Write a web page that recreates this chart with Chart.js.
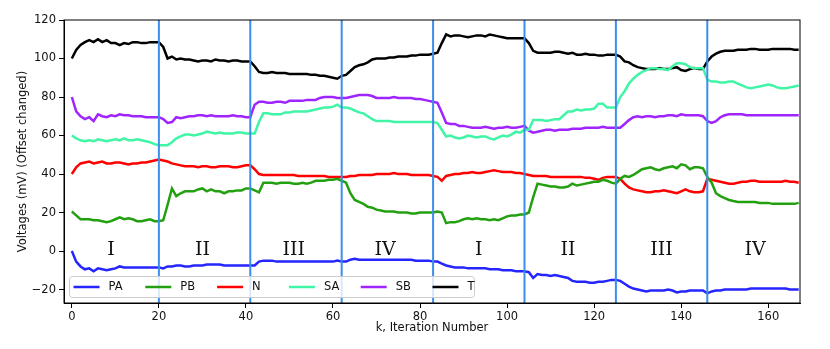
<!DOCTYPE html>
<html>
<head>
<meta charset="utf-8">
<script src="https://cdn.jsdelivr.net/npm/chart.js@4"></script>
<style>
  html, body { margin: 0; padding: 0; background: #fff; }
  #wrap { width: 830px; height: 349px; }
</style>
</head>
<body>
<div id="wrap"><canvas id="voltChart" width="830" height="349"></canvas></div>
<script>
// Données (k = 0..167)
const iterations = Array.from({length: 168}, (_, i) => i);

const seriesNames = ['PA', 'PB', 'N', 'SA', 'SB', 'T'];
const seriesColors = ['#2525ff', '#23a010', '#ff0000', '#40f5a6', '#a024ff', '#000000'];

const paData = [
  0, -5.5, -8, -9.5, -9, -10.5, -9, -9.5, -10, -9.5, -9, -8, -8.5, -8.5, -8.5, -8.5, -8.5, -8.5, -8.5, -8.5, -8.5,
  -9, -8, -8, -7.5, -7.5, -8, -8, -7.5, -7.5, -7.5, -7, -7, -7, -7, -7.5, -7.5, -7.5, -7.5, -7.5, -7.5, -7.5,
  -7.5, -5.5, -5, -5, -5, -5.5, -5.5, -5.5, -5.5, -5.5, -5.5, -5.5, -5.5, -5.5, -5.5, -5.5, -5.5, -5.5, -5.5, -5, -5.5,
  -5.5, -4.5, -4, -4.5, -4.5, -4.5, -4.5, -4.5, -4.5, -4.5, -4.5, -4.5, -4.5, -4.5, -4.5, -4.5, -5, -5, -5, -5, -5.5,
  -5.5, -6.5, -7.5, -8, -8.5, -8.5, -8.5, -9, -9, -9, -9, -9, -9.5, -9.5, -9.5, -10, -10, -10, -10.5, -10.5, -10.5,
  -11, -14, -12, -12.5, -12.5, -13, -12.5, -13, -13.5, -14, -15.5, -16, -16, -16, -16.5, -16.5, -16, -16, -15.5, -15, -15,
  -15.5, -17, -18.5, -19.5, -20, -20.5, -21, -20.5, -20.5, -20.5, -20.5, -20, -20.5, -21.5, -21, -21, -20.5, -20.5, -20.5, -20.5, -22,
  -21, -20.5, -20.5, -20, -20, -20, -20, -20, -20, -19.5, -19.5, -19.5, -19.5, -19.5, -19.5, -19.5, -19.5, -19.5, -20, -20, -20
];
const pbData = [
  20.5, 18.5, 16.5, 16.5, 16.5, 16, 16, 15.5, 15, 15.5, 16.5, 17.5, 16.5, 17, 16.5, 15.5, 15.5, 16, 16.5, 15.5, 15.5,
  16, 24, 32.5, 28.5, 30, 31, 31, 31, 32, 32.5, 31, 32, 31, 31, 30, 31, 31, 31.5, 31.5, 32.5, 32.5,
  31.5, 30.5, 35.5, 35.5, 35.5, 35, 35.5, 35.5, 35.5, 35, 35, 35.5, 35, 35.5, 36.5, 36.5, 36.5, 37, 37, 37.5, 36.5,
  35.5, 30, 26.5, 25.5, 24.5, 23, 22.5, 21.5, 21, 20.5, 20.5, 20.5, 20, 20, 20, 19.5, 19.5, 20, 20, 20, 20,
  20.5, 20, 14.5, 15, 15, 15.5, 16.5, 17, 16.5, 17, 16.5, 16.5, 16, 16.5, 16, 17, 18, 18.5, 18.5, 19, 19,
  20, 28, 35, 34.5, 34, 33.5, 33.5, 33, 33, 33.5, 35, 34, 34.5, 35, 35.5, 36, 36, 37, 36.5, 35.5, 35,
  37.5, 39, 38.5, 39.5, 41, 42.5, 43, 43.5, 42.5, 42, 43, 43.5, 44, 43, 45, 44.5, 42.5, 43.5, 43.5, 43, 38.5,
  35.5, 30, 28.5, 27.5, 26.5, 26, 25.5, 25.5, 25.5, 25.5, 25.5, 25, 25, 25, 24.5, 24.5, 24.5, 24.5, 24.5, 24.5, 25
];
const nData = [
  40, 43.5, 45.5, 46, 46.5, 45.5, 46, 46.5, 45.5, 45.5, 46, 46, 45.5, 45, 45.5, 45.5, 46, 46, 46.5, 47, 47.5,
  47, 46.5, 45.5, 45, 44.5, 44, 44, 44, 43.5, 44, 44, 43.5, 43.5, 44, 44, 44, 43.5, 43.5, 44, 44.5, 44.5,
  42.5, 40, 39.5, 39.5, 39.5, 39.5, 39.5, 39.5, 39.5, 39.5, 39, 39, 39, 39, 39, 39, 39, 38.5, 38.5, 38.5, 38.5,
  38.5, 39, 39, 39.5, 39.5, 39.5, 39.5, 40, 40, 40, 40, 40.5, 40, 40, 40, 39.5, 39.5, 39.5, 39.5, 39.5, 39,
  38.5, 36.5, 39, 39.5, 40, 40, 40.5, 40.5, 41, 40.5, 40.5, 41, 41.5, 42, 41.5, 41, 41, 41, 40.5, 40.5, 40,
  39.5, 39, 39, 39, 39, 38.5, 38.5, 38.5, 38.5, 38.5, 38.5, 38.5, 38.5, 38, 38, 37.5, 37, 38, 38.5, 38.5, 38.5,
  37.5, 35, 33, 32, 31.5, 31, 30.5, 30.5, 31, 31, 31.5, 31, 30.5, 30, 31, 32, 31, 30.5, 30.5, 31, 37.5,
  37, 36.5, 36, 35.5, 35, 35, 35.5, 36, 36, 36.5, 36.5, 36, 36, 36, 36, 36, 36, 36.5, 36, 36, 35.5
];
const saData = [
  60, 58.5, 57.5, 57, 57.5, 57, 58, 57.5, 57, 57.5, 58, 57.5, 58.5, 57.5, 57.5, 58, 57.5, 57, 56.5, 55.5, 55,
  55, 55, 56.5, 58.5, 59.5, 60.5, 60.5, 60, 60.5, 61, 62, 61.5, 61, 61.5, 61, 61, 61, 61.5, 61.5, 61, 61,
  61, 67, 71.5, 71.5, 71, 71, 71, 72, 72, 72.5, 72.5, 72.5, 72.5, 73, 73.5, 74, 74.5, 74.5, 75, 76, 74.5,
  74.5, 74, 73, 72, 71.5, 70, 68.5, 67.5, 67.5, 67.5, 67.5, 67, 67, 67, 67, 67, 67, 67, 67, 67, 67,
  66.5, 63, 59.5, 60, 59, 58.5, 59, 60, 59.5, 59, 59.5, 59.5, 58.5, 58, 59, 60, 59.5, 60.5, 62, 61.5, 63,
  63, 68, 68, 68, 67.5, 68, 68.5, 68.5, 70.5, 72.5, 72.5, 73.5, 73, 73.5, 73.5, 74, 76.5, 76.5, 74.5, 74.5, 74.5,
  80, 83, 87, 89.5, 91.5, 93, 94, 95, 95, 94.5, 94.5, 94, 96, 97.5, 97.5, 97, 95.5, 95, 95, 95, 89,
  88, 88, 87.5, 87.5, 88, 88, 87, 86, 85, 84.5, 85, 85.5, 86, 86.5, 86, 85, 84.5, 84.5, 85, 85.5, 86
];
const sbData = [
  80, 72.5, 70, 68.5, 69.5, 67.5, 71, 70, 69.5, 70.5, 70, 71, 70.5, 70.5, 70, 70, 70, 69.5, 69.5, 69.5, 69.5,
  68.5, 66.5, 67, 69.5, 69, 69.5, 70, 70, 70.5, 70.5, 70, 70.5, 70, 70, 70, 70, 70.5, 70, 70, 69.5, 69.5,
  76, 77.5, 77.5, 77, 77, 77.5, 77.5, 77, 78, 78, 78, 78, 78.5, 78.5, 78.5, 79.5, 80, 80, 80, 79.5, 79.5,
  79.5, 80, 80.5, 81, 81, 81, 80.5, 79.5, 79.5, 79.5, 79.5, 80, 79.5, 79.5, 79.5, 79.5, 79, 79, 78.5, 78, 77.5,
  77, 72, 66.5, 66, 66, 65, 65, 64.5, 64, 64, 64, 64.5, 64, 63.5, 64, 64, 64.5, 64, 64, 64.5, 65,
  62.5, 61.5, 62, 62.5, 63, 63, 62.5, 63, 63, 63, 63.5, 63.5, 63.5, 64, 64, 64, 64, 64.5, 64, 64, 64,
  64, 66, 68, 69.5, 70, 69.5, 70, 70, 69.5, 70, 70, 70.5, 70.5, 70, 71, 70.5, 70.5, 70.5, 70.5, 70, 67.5,
  66.5, 67.5, 69.5, 70.5, 71, 71, 71, 71, 70.5, 70.5, 70.5, 70.5, 70.5, 70.5, 70.5, 70.5, 70.5, 70.5, 70.5, 70.5, 70.5
];
const tData = [
  100, 104.5, 107, 108.5, 109.5, 108.5, 110, 108.5, 109.5, 108, 108, 107, 108, 107.5, 108.5, 108.5, 108, 108, 108.5, 108.5, 108.5,
  106, 100, 101, 99.5, 100, 99.5, 99.5, 99, 98.5, 99, 99, 98.5, 99.5, 99, 99, 98.5, 99, 99, 98.5, 98.5, 98.5,
  96, 93, 92.5, 92.5, 93, 92.5, 92.5, 92.5, 92, 92, 92, 92, 92, 91.5, 91.5, 91, 91, 90.5, 90, 89.5, 91,
  91.5, 93.5, 95.5, 96.5, 97, 98, 99.5, 100, 100, 100, 100.5, 100.5, 101, 101, 101, 101.5, 101.5, 102, 102, 102, 102.5,
  103, 108, 112.5, 111.5, 112, 112, 111.5, 111, 111.5, 112, 112, 111.5, 112.5, 112, 111.5, 111, 110.5, 110.5, 110.5, 110.5, 110.5,
  108, 104, 103, 103, 103, 103, 103.5, 103.5, 103, 102.5, 103, 102, 102, 102.5, 102, 102, 101.5, 101.5, 102, 102, 102,
  101, 98.5, 98, 96.5, 95.5, 95, 94.5, 94.5, 94.5, 95, 94.5, 94.5, 95, 95.5, 94, 93.5, 94.5, 95, 94.5, 94.5, 98.5,
  101, 102.5, 103.5, 104, 104, 104, 104.5, 104.5, 104.5, 105, 105, 104.5, 104.5, 104.5, 105, 105, 105, 105, 105, 104.5, 104.5
];
const allSeries = [paData, pbData, nData, saData, sbData, tData];

// Séparations des phases et étiquettes
const phaseBounds = [20, 41, 62, 83, 104, 125, 146];
const phaseNames = ['I', 'II', 'III', 'IV', 'I', 'II', 'III', 'IV'];
const phaseNameK = [9, 30, 51, 72, 93.5, 114, 135.5, 157];
const phaseNameLevel = -2;

const xTicks = [0, 20, 40, 60, 80, 100, 120, 140, 160];
const yTicks = [-20, 0, 20, 40, 60, 80, 100, 120];

const tickFont = { family: 'DejaVu Sans', size: 11.5 };

// Plugin : lignes verticales, chiffres romains, cadre et légende
const overlayPlugin = {
  id: 'overlay',
  afterDatasetsDraw(chart) {
    const { ctx, chartArea: a, scales: { x, y } } = chart;
    ctx.save();

    ctx.strokeStyle = '#3a8fec';
    ctx.lineWidth = 2;
    phaseBounds.forEach(k => {
      const px = x.getPixelForValue(k);
      ctx.beginPath();
      ctx.moveTo(px, a.top);
      ctx.lineTo(px, a.bottom);
      ctx.stroke();
    });

    ctx.fillStyle = '#111';
    ctx.font = '19px "DejaVu Serif"';
    ctx.textAlign = 'center';
    ctx.textBaseline = 'alphabetic';
    phaseNames.forEach((name, i) => {
      ctx.fillText(name, x.getPixelForValue(phaseNameK[i]), y.getPixelForValue(phaseNameLevel));
    });

    // légende dans la zone du graphique
    const lx = a.left + 5.5, ly = 276.5, lw = 405, lh = 21;
    ctx.beginPath();
    ctx.roundRect(lx, ly, lw, lh, 3);
    ctx.fillStyle = 'rgba(255,255,255,0.8)';
    ctx.fill();
    ctx.strokeStyle = '#cccccc';
    ctx.lineWidth = 1;
    ctx.stroke();

    ctx.font = '11.5px "DejaVu Sans"';
    ctx.textAlign = 'left';
    ctx.textBaseline = 'middle';
    chart.data.datasets.forEach((ds, i) => {
      const hx = lx + 4 + i * 71.8;
      const cy = ly + lh / 2;
      ctx.strokeStyle = ds.borderColor;
      ctx.lineWidth = 2.5;
      ctx.beginPath();
      ctx.moveTo(hx, cy);
      ctx.lineTo(hx + 26, cy);
      ctx.stroke();
      ctx.fillStyle = '#111';
      ctx.fillText(ds.label, hx + 35, cy + 0.5);
    });

    ctx.strokeStyle = '#000';
    ctx.lineWidth = 1;
    ctx.strokeRect(a.left, a.top, a.right - a.left, a.bottom - a.top);
    ctx.restore();
  }
};

const ctx = document.getElementById('voltChart').getContext('2d');
const chart = new Chart(ctx, {
  type: 'line',
  data: {
    datasets: seriesNames.map((name, i) => ({
      label: name,
      data: allSeries[i].map((v, j) => ({ x: iterations[j], y: v })),
      borderColor: seriesColors[i],
      backgroundColor: seriesColors[i],
      borderWidth: 2.5,
      pointRadius: 0,
      tension: 0,
      fill: false
    }))
  },
  options: {
    responsive: false,
    animation: false,
    layout: { padding: { left: 0, top: 20, right: 30, bottom: 0 } },
    plugins: {
      legend: { display: false },
      tooltip: { enabled: false }
    },
    scales: {
      x: {
        type: 'linear',
        min: -1.8,
        max: 167.3,
        afterBuildTicks: axis => { axis.ticks = xTicks.map(v => ({ value: v })); },
        afterFit: scale => { scale.height = 46; },
        grid: { drawOnChartArea: false, tickLength: 5, color: '#000', tickWidth: 1 },
        border: { color: '#000', width: 1 },
        ticks: { color: '#111', font: tickFont, padding: 2, maxRotation: 0 },
        title: {
          display: true,
          text: 'k, Iteration Number',
          color: '#111',
          font: { family: 'DejaVu Sans', size: 11.5 },
          padding: { top: 0, bottom: 14 }
        }
      },
      y: {
        min: -27,
        max: 120,
        afterBuildTicks: axis => { axis.ticks = yTicks.map(v => ({ value: v })); },
        afterFit: scale => { scale.width = 64; },
        grid: { drawOnChartArea: false, tickLength: 5, color: '#000', tickWidth: 1 },
        border: { color: '#000', width: 1 },
        ticks: {
          color: '#111',
          font: tickFont,
          padding: 3,
          callback: v => (v < 0 ? '\u2212' + Math.abs(v) : v)
        },
        title: {
          display: true,
          text: 'Voltages (mV) (Offset changed)',
          color: '#111',
          font: { family: 'DejaVu Sans', size: 11.5 },
          padding: { top: 16, bottom: 0 }
        }
      }
    }
  },
  plugins: [overlayPlugin]
});
</script>
</body>
</html>
